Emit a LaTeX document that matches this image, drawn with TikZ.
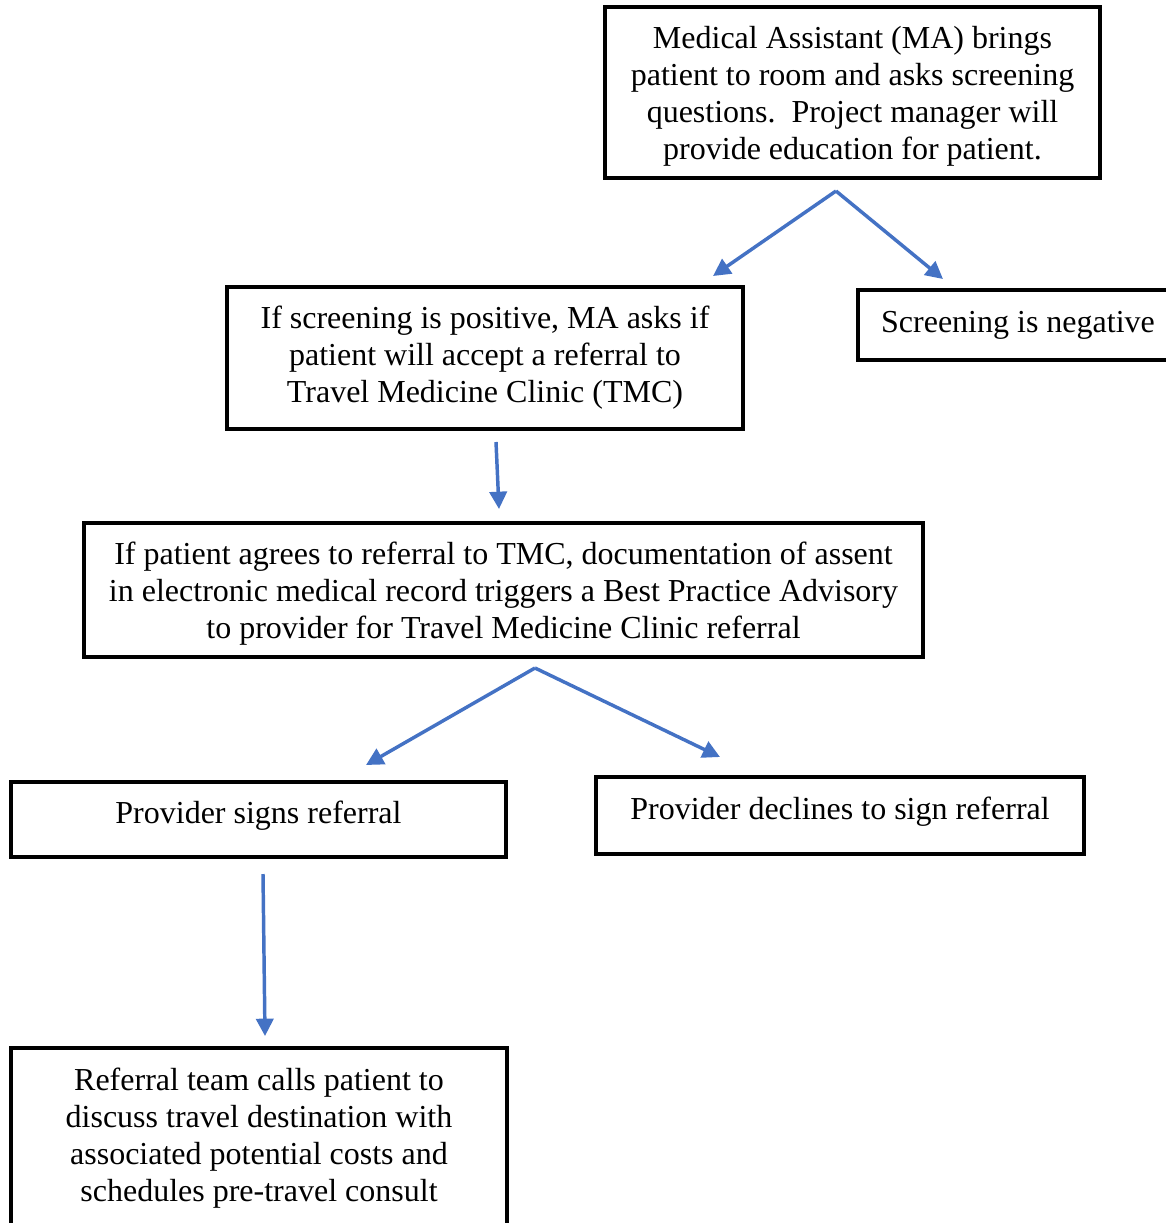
\documentclass[tikz,border=0pt]{standalone}
\usepackage{fontspec}
\setmainfont{Liberation Serif}
\usetikzlibrary{arrows.meta}
\definecolor{flowblue}{RGB}{68,114,196}
% invisible struts that nudge a node's text down or up inside its frame
\newcommand{\toppad}{\rule{0pt}{23pt}}
\newcommand{\botpad}{\rule[-11pt]{0pt}{0pt}}
\begin{document}
\begin{tikzpicture}[x=0.75pt,y=-0.75pt,
  box/.style={draw=black,line width=2.8pt,inner sep=0pt,align=center,
    font=\fontsize{24}{27.75}\selectfont},
  flow/.style={draw=flowblue,line width=2.6pt,
    -{Triangle[length=13pt,width=13pt]}}]
\useasboundingbox (0,0) rectangle (1165,1223);

% process boxes
\node[box,minimum width=371.25pt,minimum height=128.25pt] (ma) at (852.5,92.5)
  {\toppad Medical Assistant (MA) brings\\patient to room and asks screening\\questions.\ \ Project manager will\\provide education for patient.};
\node[box,minimum width=387pt,minimum height=106.5pt] (pos) at (485,358)
  {If screening is positive, MA asks if\\patient will accept a referral to\\Travel Medicine Clinic (TMC)};
\node[box,minimum width=240pt,minimum height=52.5pt] (neg) at (1018,325)
  {Screening is negative};
\node[box,minimum width=629.25pt,minimum height=100.5pt] (agree) at (503.5,590)
  {\toppad If patient agrees to referral to TMC, documentation of assent\\in electronic medical record triggers a Best Practice Advisory\\to provider for Travel Medicine Clinic referral};
\node[box,minimum width=371.25pt,minimum height=56.25pt] (signs) at (258.5,819.5)
  {Provider signs referral\botpad};
\node[box,minimum width=366pt,minimum height=57.75pt] (declines) at (840,815.5)
  {Provider declines to sign referral\botpad};
\node[box,minimum width=372pt,minimum height=135pt] (team) at (259,1138)
  {Referral team calls patient to\\discuss travel destination with\\associated potential costs and\\schedules pre-travel consult};

% connector end points
\coordinate (maout) at (836,191);
\coordinate (posin) at (713,276);
\coordinate (negin) at (943,279);
\coordinate (posout) at (496,442);
\coordinate (agreein) at (499,509);
\coordinate (agreeout) at (535,668);
\coordinate (signsin) at (366,765);
\coordinate (declinesin) at (720,757);
\coordinate (signsout) at (263,874);
\coordinate (teamin) at (265,1036);

% connectors
\draw[flow] (maout) -- (posin);
\draw[flow] (maout) -- (negin);
\draw[flow] (posout) -- (agreein);
\draw[flow] (agreeout) -- (signsin);
\draw[flow] (agreeout) -- (declinesin);
\draw[flow] (signsout) -- (teamin);
\end{tikzpicture}
\end{document}
